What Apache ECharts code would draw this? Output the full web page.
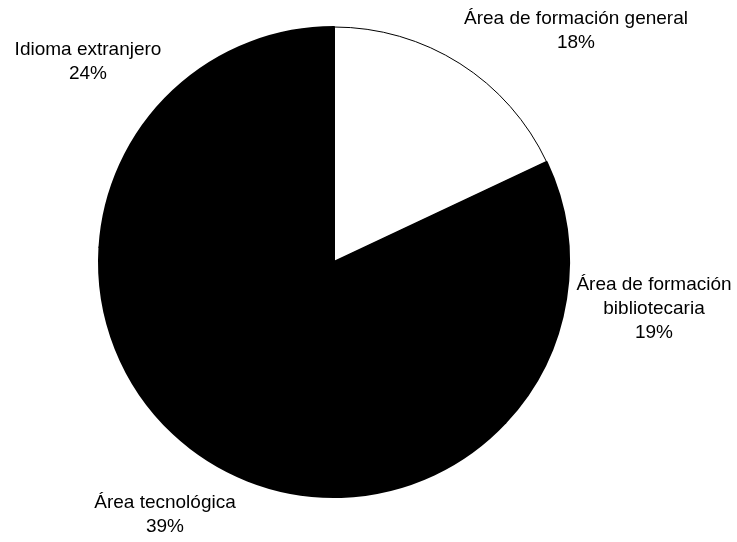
<!DOCTYPE html>
<html>
<head>
<meta charset="utf-8">
<script src="https://cdn.jsdelivr.net/npm/echarts@6/dist/echarts.min.js"></script>
<style>
html, body { margin: 0; padding: 0; background: #fff; }
#main { width: 737px; height: 542px; }
</style>
</head>
<body>
<div id="main"></div>
<script>
var categories = ['Área de formación general', 'Área de formación\nbibliotecaria', 'Área tecnológica', 'Idioma extranjero'];
var values = [18, 19, 39, 24];
var colors = ['#ffffff', '#000000', '#000000', '#000000'];

// label centres, same order as categories
var labelSpots = [[576, 31], [654, 309], [165, 515], [88, 62]];

var chart = echarts.init(document.getElementById('main'));
var option = {
    animation: false,
    backgroundColor: '#ffffff',
    series: [{
        type: 'pie',
        center: [334, 262],
        radius: [0, 235],
        startAngle: 90,
        clockwise: true,
        data: categories.map(function (c, i) {
            return {
                name: c,
                value: values[i],
                itemStyle: { color: colors[i], borderWidth: i === 0 ? 1 : 2 }
            };
        }),
        itemStyle: {
            borderColor: '#000000',
            borderWidth: 1
        },
        label: {
            show: true,
            position: 'outside',
            formatter: '{b}\n{d}%',
            fontFamily: 'Liberation Sans, Arial, sans-serif',
            fontSize: 19,
            lineHeight: 24,
            color: '#000000',
            align: 'center',
            overflow: 'none',
            width: 400
        },
        labelLine: { show: false },
        labelLayout: function (params) {
            var p = labelSpots[params.dataIndex];
            return { x: p[0], y: p[1], align: 'center', verticalAlign: 'middle' };
        },
        emphasis: { disabled: true }
    }]
};
chart.setOption(option);
</script>
</body>
</html>
